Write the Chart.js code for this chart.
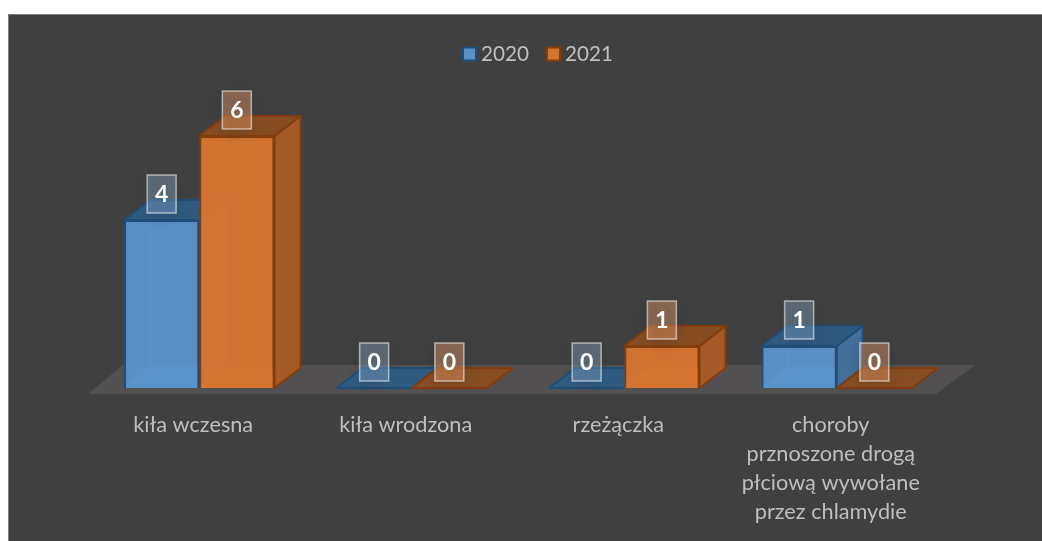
<!DOCTYPE html>
<html><head><meta charset="utf-8">
<style>html,body{margin:0;padding:0;background:#fff}canvas{display:block}</style>
<script src="https://cdn.jsdelivr.net/npm/chart.js@4"></script>
</head><body><div style="width:1042px;height:541px"><canvas id="c" width="1042" height="541"></canvas></div>
<script>
const categories=[["kiła wczesna"],["kiła wrodzona"],["rzeżączka"],["choroby","prznoszone drogą","płciową wywołane","przez chlamydie"]];
const seriesNames=["2020","2021"];
const values2020=[4,0,0,1];
const values2021=[6,0,1,0];
const FONT="Lato, Carlito, sans-serif";
const DX=26,DY=20;
const look={
 "2020":{top:"rgba(46,92,134,.92)",side:"rgba(65,113,156,.97)",floor:"rgba(80,135,190,.55)",line:"#1f4e79",back:"rgba(85,150,215,.5)",tag:"rgba(91,155,213,.22)",swatch:"#5b8fc4"},
 "2021":{top:"rgba(140,78,32,.92)",side:"rgba(166,91,38,.97)",floor:"rgba(215,120,50,.55)",line:"#843c0c",back:"rgba(225,120,40,.5)",tag:"rgba(237,125,49,.32)",swatch:"#d4722f"}
};
function poly(ctx,pts,fill,stroke,w){ctx.beginPath();pts.forEach((p,i)=>i?ctx.lineTo(p[0],p[1]):ctx.moveTo(p[0],p[1]));ctx.closePath();
 if(fill){ctx.fillStyle=fill;ctx.fill();}
 if(stroke){ctx.strokeStyle=stroke;ctx.lineWidth=w||2;ctx.lineJoin="round";ctx.stroke();}}
const scene={
 id:"scene",
 beforeDraw(ch){const c=ch.ctx;c.save();c.fillStyle="#404040";c.fillRect(8,14,1034,527);
  c.strokeStyle="#7f7f7f";c.lineWidth=1;c.beginPath();c.moveTo(8.5,541);c.lineTo(8.5,14.5);c.lineTo(1042,14.5);c.stroke();
  // legend, read from the datasets
  c.font="20.7px "+FONT;c.textBaseline="middle";c.textAlign="left";
  let x=463;
  ch.data.datasets.forEach(ds=>{const l=look[ds.label];
   c.fillStyle=l.swatch;c.fillRect(x,47.5,13,13);c.strokeStyle=l.line;c.lineWidth=2;c.strokeRect(x,47.5,13,13);
   c.fillStyle="#bfbfbf";c.fillText(ds.label,x+18,54.5);
   x+=84;});
  c.restore();},
 beforeDatasetsDraw(ch){const c=ch.ctx,a=ch.chartArea,b=ch.scales.y.getPixelForValue(0);
  c.save();
  poly(c,[[a.left-5,b+6],[a.right-7,b+6],[a.right+32,b-23],[a.left+30,b-23]],"#525050");
  [0,1].forEach(i=>{const m=ch.getDatasetMeta(i),l=look[ch.data.datasets[i].label];
   m.data.forEach(el=>{const p=el.getProps(["x","y","base","width"],true);
    const L=p.x-p.width/2,R=p.x+p.width/2,T=p.y,B=p.base;
    if(B-T>1){
     poly(c,[[L,B],[R,B],[R+DX,B-DY],[L+DX,B-DY]],l.floor);
     c.strokeStyle=l.back;c.lineWidth=1.5;c.beginPath();c.moveTo(L+DX,T-DY);c.lineTo(L+DX,B-DY);c.lineTo(R+DX,B-DY);c.moveTo(L,B);c.lineTo(L+DX,B-DY);c.stroke();
     poly(c,[[R,T],[R+DX,T-DY],[R+DX,B-DY],[R,B]],l.side,l.line,2);
    }
    poly(c,[[L,T],[R,T],[R+DX,T-DY],[L+DX,T-DY]],l.top,l.line,2);
   });});
  c.restore();},
 afterDatasetsDraw(ch){const c=ch.ctx;
  [1,0].forEach(i=>{const ds=ch.data.datasets[i],m=ch.getDatasetMeta(i),l=look[ds.label];
   m.data.forEach((el,k)=>{const p=el.getProps(["x","y"],true);const w=29,h=38,x=p.x-w/2,y=p.y-26-h/2;
    c.save();c.shadowColor="rgba(0,0,0,.45)";c.shadowBlur=14;c.shadowOffsetY=4;
    c.fillStyle=l.tag;c.fillRect(x,y,w,h);c.restore();
    c.save();c.fillStyle="rgba(255,255,255,.13)";c.fillRect(x,y,w,h);
    c.strokeStyle="rgba(255,255,255,.55)";c.lineWidth=1.5;c.strokeRect(x,y,w,h);
    c.fillStyle="#fff";c.font="bold 23px "+FONT;c.textAlign="center";c.textBaseline="middle";
    c.fillText(String(ds.data[k]),p.x,y+h/2+1);c.restore();
   });});}
};
new Chart(document.getElementById("c"),{
 type:"bar",
 data:{labels:categories,datasets:[
  {label:seriesNames[0],data:values2020,backgroundColor:"rgba(91,150,208,.93)",borderColor:"#1f4e79",borderWidth:2},
  {label:seriesNames[1],data:values2021,backgroundColor:"rgba(217,117,48,.95)",borderColor:"#843c0c",borderWidth:2}
 ]},
 plugins:[scene],
 options:{
  responsive:false,animation:false,
  layout:{padding:{left:93,right:99,top:52,bottom:0}},
  datasets:{bar:{categoryPercentage:.708,barPercentage:1}},
  plugins:{tooltip:{enabled:false},title:{display:false},legend:{display:false}},
  scales:{
   x:{grid:{display:false},border:{display:false},afterFit(s){s.height=153;},
      ticks:{color:"#bfbfbf",padding:15,labelOffset:-6,maxRotation:0,autoSkip:false,font:{family:FONT,size:21.7,lineHeight:29/21.7}}},
   y:{display:false,min:0,max:8}
  }
 }
});
</script></body></html>
